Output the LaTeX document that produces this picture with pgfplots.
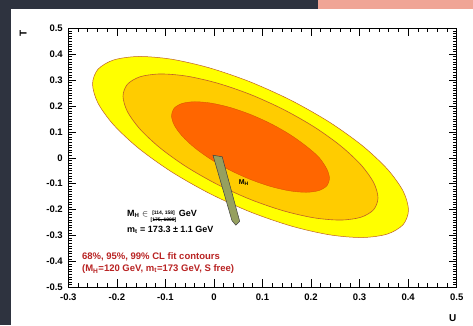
\documentclass[border=0pt]{standalone}
\usepackage{pgfplots}
\pgfplotsset{compat=1.18}
\usepackage{fontspec}
\setmainfont{Liberation Sans}
\definecolor{slidebg}{RGB}{46,51,63}
\definecolor{slidepink}{RGB}{240,165,150}
\definecolor{cyel}{RGB}{255,255,0}
\definecolor{cgold}{RGB}{255,204,0}
\definecolor{corange}{RGB}{255,102,0}
\definecolor{cedge}{RGB}{190,95,40}
\definecolor{cred}{RGB}{185,35,35}
\definecolor{cband}{RGB}{150,160,95}
\begin{document}
\begin{tikzpicture}
\path[use as bounding box] (0pt,0pt) rectangle (473pt,-325pt);
\fill[slidebg] (0pt,0pt) rectangle (473pt,-325pt);
\fill[slidepink] (318pt,0pt) rectangle (473pt,-9pt);
\fill[white] (11pt,-9pt) rectangle (473pt,-325pt);
\begin{axis}[
  at={(68.3pt,-287.3pt)}, anchor=south west,
  width=388.4pt, height=259pt, scale only axis,
  xmin=-0.3, xmax=0.5, ymin=-0.5, ymax=0.5,
  xtick={-0.3,-0.2,-0.1,0,0.1,0.2,0.3,0.4,0.5},
  xticklabels={-0.3,-0.2,-0.1,0,0.1,0.2,0.3,0.4,0.5},
  ytick={-0.5,-0.4,-0.3,-0.2,-0.1,0,0.1,0.2,0.3,0.4,0.5},
  yticklabels={-0.5,-0.4,-0.3,-0.2,-0.1,0,0.1,0.2,0.3,0.4,0.5},
  minor x tick num=4, minor y tick num=9,
  tick align=inside,
  major tick length=8pt, minor tick length=4pt,
  tick style={black, line width=0.6pt},
  axis line style={black, line width=0.9pt},
  ticklabel style={font=\fontsize{9.5}{11}\selectfont\bfseries},
  xticklabel style={yshift=-3pt},
  yticklabel style={xshift=-2pt},
  xlabel={\bfseries U}, ylabel={\bfseries T},
  label style={font=\fontsize{10}{12}\selectfont},
  xlabel style={at={(axis description cs:0.990,-0.1185)}, anchor=center},
  ylabel style={at={(axis description cs:-0.116,0.981)}, anchor=center},
]
% 99% CL
\addplot[fill=cyel, draw=cedge, line width=0.5pt, smooth cycle] coordinates {
(0.4007,-0.2015) (0.3896,-0.2582) (0.3571,-0.2944) (0.3054,-0.3078)
(0.2380,-0.2973) (0.1595,-0.2636) (0.0753,-0.2093) (-0.0089,-0.1378)
(-0.0874,-0.0541) (-0.1548,0.0362) (-0.2065,0.1268) (-0.2390,0.2116)
(-0.2501,0.2849) (-0.2390,0.3416) (-0.2065,0.3778) (-0.1548,0.3912)
(-0.0874,0.3807) (-0.0089,0.3470) (0.0753,0.2927) (0.1595,0.2212)
(0.2380,0.1375) (0.3054,0.0472) (0.3571,-0.0434) (0.3896,-0.1282)
};
% 95% CL
\addplot[fill=cgold, draw=cedge, line width=0.6pt, smooth cycle] coordinates {
(0.3379,-0.1546) (0.3289,-0.2003) (0.3027,-0.2295) (0.2610,-0.2403)
(0.2066,-0.2319) (0.1432,-0.2047) (0.0753,-0.1609) (0.0074,-0.1032)
(-0.0560,-0.0356) (-0.1104,0.0373) (-0.1521,0.1104) (-0.1783,0.1788)
(-0.1873,0.2380) (-0.1783,0.2837) (-0.1521,0.3129) (-0.1104,0.3237)
(-0.0560,0.3153) (0.0074,0.2881) (0.0753,0.2443) (0.1432,0.1866)
(0.2066,0.1190) (0.2610,0.0461) (0.3027,-0.0270) (0.3289,-0.0954)
};
% 68% CL
\addplot[fill=corange, draw=corange!85!black, line width=0.4pt, smooth cycle] coordinates {
(0.2380,-0.0799) (0.2325,-0.1083) (0.2162,-0.1264) (0.1904,-0.1331)
(0.1567,-0.1278) (0.1174,-0.1110) (0.0753,-0.0838) (0.0332,-0.0481)
(-0.0061,-0.0062) (-0.0398,0.0389) (-0.0656,0.0843) (-0.0819,0.1267)
(-0.0874,0.1633) (-0.0819,0.1917) (-0.0656,0.2098) (-0.0398,0.2165)
(-0.0061,0.2112) (0.0332,0.1944) (0.0753,0.1672) (0.1174,0.1315)
(0.1567,0.0896) (0.1904,0.0445) (0.2162,0.0021) (0.2325,-0.0433)
};
% SM prediction band (M_H, m_t)
\addplot[fill=cband, draw=black!75, line width=0.5pt] coordinates {
(-0.002,0.010) (0.017,0.004) (0.053,-0.245) (0.045,-0.260) (0.037,-0.242)
} -- cycle;
\node[anchor=west, font=\fontsize{7}{8}\selectfont\bfseries] at (axis cs:0.044,-0.097) {M\textsubscript{H}};
\node[anchor=west, font=\fontsize{9}{10}\selectfont\bfseries, inner sep=0pt] at (axis cs:-0.179,-0.229)
  {M\textsubscript{H} $\in$ \raisebox{-0.35ex}{\fontsize{5}{5.5}\selectfont\begin{tabular}{@{}c@{}}[114, 158]\\[-1pt]\rule{22pt}{0.3pt}\\[-3pt][175, 1000]\end{tabular}} GeV};
\node[anchor=west, font=\fontsize{9}{10}\selectfont\bfseries, inner sep=0pt] at (axis cs:-0.179,-0.279)
  {m\textsubscript{t} = 173.3 \textpm\ 1.1 GeV};
\node[anchor=west, text=cred, font=\fontsize{9.5}{11}\selectfont\bfseries, inner sep=0pt] at (axis cs:-0.272,-0.383)
  {68\%, 95\%, 99\% CL fit contours};
\node[anchor=west, text=cred, font=\fontsize{9.5}{11}\selectfont\bfseries, inner sep=0pt] at (axis cs:-0.272,-0.430)
  {(M\textsubscript{H}=120 GeV, m\textsubscript{t}=173 GeV, S free)};
\end{axis}
\end{tikzpicture}
\end{document}
